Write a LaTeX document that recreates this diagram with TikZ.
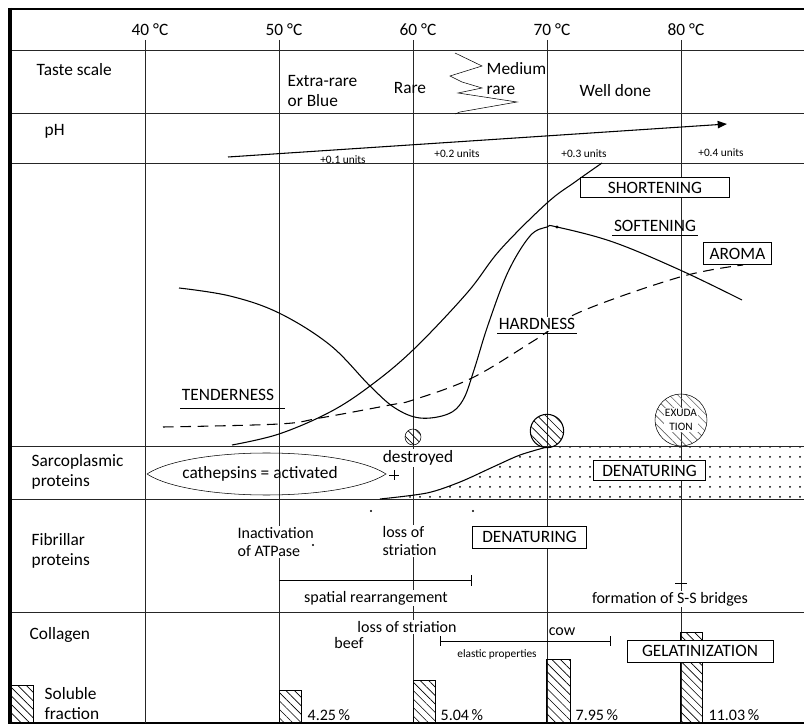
\documentclass[tikz,border=0pt]{standalone}
\usepackage{fontspec}
\setmainfont{Carlito}
\usetikzlibrary{arrows.meta,patterns.meta}

\begin{document}
\begin{tikzpicture}[x=0.75pt,y=-0.75pt,
    font=\fontsize{13}{15}\selectfont,
    medio/.style={font=\fontsize{12}{14}\selectfont},
    chico/.style={font=\fontsize{8.5}{9.5}\selectfont},
    caja/.style={draw,fill=white,inner sep=2pt,line width=0.7pt},
    blanco/.style={fill=white,inner sep=1pt},
    rayado/.style={pattern={Lines[angle=-45,distance=4.5pt,line width=0.5pt]}},
    rejilla/.style={line width=0.6pt,black!85},
    curva/.style={line width=0.8pt}]
    \useasboundingbox (0,0) rectangle (804,727);
    % Marco
    \foreach \y in {50,113,163,446,499,612}
        \draw[rejilla] (10,\y) -- (804,\y);
    \draw[line width=2pt] (10,9) -- (804,9);
    \draw[line width=1.5pt] (10,723) -- (804,723);
    \draw[line width=2.5pt] (10,8) -- (10,724);
    % Temperaturas
    \foreach \t/\x in {40/145,50/279,60/413,70/547,80/681}{
        \draw[rejilla] (\x,40) -- (\x,723);
        \node (t\t) at (\x+5,30) {\t\ °C};
    }
    % Escala de sabor
    \node[anchor=west] (taste) at (32,70) {Taste scale};
    \node[anchor=west,align=left] (xrare) at (283,91) {Extra-rare\\or Blue};
    \node (rare) at (410,88) {Rare};
    \draw (455,53) -- (482,66) -- (450,76) -- (462,82) -- (482,88) -- (458,93)
        -- (517,102) -- (460,112) -- (455,114);
    \node[anchor=west,align=left] (medium) at (482,79) {Medium\\rare};
    \node[anchor=west] (done) at (575,91) {Well done};
    % pH
    \node[anchor=west] (ph) at (40,131) {pH};
    \coordinate (ph0) at (228,157);
    \coordinate (ph1) at (727,124);
    \draw[line width=0.8pt,-{Triangle[length=7pt,width=5.5pt]}] (ph0) -- (ph1);
    \node[chico] (u1) at (343,160) {+0.1 units};
    \node[chico] (u2) at (457,154) {+0.2 units};
    \node[chico] (u3) at (584,154) {+0.3 units};
    \node[chico] (u4) at (721,153) {+0.4 units};
    % Zona punteada
    \fill[pattern={Dots[distance=7.5pt,radius=0.75pt]},pattern color=black]
        plot[smooth] coordinates {(393,499) (427,493) (460,482) (493,467) (520,455) (547,447)}
        -- (804,447) -- (804,499) -- cycle;
    \draw[curva] plot[smooth] coordinates {(380,499) (427,493) (460,482) (493,467) (520,455) (547,447)};
    % Curvas
    \draw[curva] plot[smooth,tension=0.6] coordinates {(179,288) (230,296) (279,313)
        (330,345) (370,386) (395,408) (420,418) (448,414) (463,400) (474,370) (488,325)
        (508,272) (530,236) (547,227) (557,227) (613,242) (680,270) (742,300)};
    \fill (557,227) circle (1.3pt);
    \draw[curva] plot[smooth,tension=0.6] coordinates {(232,445) (279,434) (330,412)
        (370,386) (413,350) (467,293) (500,250) (547,203) (575,182) (602,163)};
    \draw[curva,dash pattern=on 8pt off 5pt] plot[smooth,tension=0.6] coordinates {(163,427)
        (279,424) (320,418) (390,405) (413,400) (472,378) (535,340) (580,312) (680,277) (743,265)};
    % Etiquetas de curvas
    \node (tender) at (228,395) {TENDERNESS};
    \draw (180,408) -- (285,408);
    \node[blanco] (hard) at (537,324) {HARDNESS};
    \draw (497,333) -- (577,333);
    \node (soft) at (655,226) {SOFTENING};
    \draw (612,235) -- (698,235);
    \node[caja,minimum width=112pt,minimum height=15.5pt] (short) at (655,187.5) {SHORTENING};
    \node[caja,minimum width=51.5pt,minimum height=17pt] (aroma) at (737.5,253.5) {AROMA};
    % Circulos
    \node[circle,draw,rayado,minimum size=12pt,inner sep=0pt] (c60) at (413,437) {};
    \node[circle,draw,line width=0.8pt,rayado,minimum size=25pt,inner sep=0pt] (c70) at (547,431) {};
    \node[circle,draw,pattern={Lines[angle=-45,distance=4.5pt,line width=0.5pt]},
        pattern color=black!60,minimum size=39pt,inner sep=0pt] (c80) at (681,420) {};
    \node[chico,blanco,align=center] (exud) at (681,420) {EXUDA\\[1pt]TION};
    % Proteinas sarcoplasmicas
    \node[anchor=west,align=left] (sarco) at (27,472) {Sarcoplasmic\\proteins};
    \draw (147,474) .. controls (190,446) and (343,446) .. (386,474)
        .. controls (343,502) and (190,502) .. (147,474);
    \node (cath) at (260,474) {cathepsins = activated};
    \draw (389,475) -- (399,475) (394,470) -- (394,480);
    \node[blanco] (destr) at (418,458) {destroyed};
    \node[caja,minimum width=84.5pt,minimum height=15.5pt] (den1) at (649.5,470.5) {DENATURING};
    % Proteinas fibrilares
    \node[anchor=west,align=left] (fibr) at (27,551) {Fibrillar\\proteins};
    \node[medio,blanco,anchor=west,align=left] (atp) at (236,542) {Inactivation\\of ATPase};
    \node[medio,blanco,anchor=west,align=left] (stri1) at (381,541) {loss of\\striation};
    \foreach \p in {(313,545),(371,511),(473,511)}
        \fill \p circle (0.8pt);
    \node[caja,minimum width=86pt,minimum height=16.5pt] (den2) at (529.5,537) {DENATURING};
    \draw (279,580) -- (471,580) (471,575) -- (471,586);
    \node[medio,blanco] (spat) at (376,598) {spatial rearrangement};
    \draw (675,583) -- (687,583);
    \node[medio,blanco] (ss) at (670,599) {formation of S-S bridges};
    % Colageno
    \node[anchor=west] (coll) at (25,635) {Collagen};
    \node[medio,blanco] (stri2) at (407,627) {loss of striation};
    \node[medio] (beef) at (349,643) {beef};
    \node[medio] (cow) at (562,632) {cow};
    \draw (440,641) -- (610,641) (440,636) -- (440,646) (610,636) -- (610,646);
    \node[chico] (elast) at (497,654) {elastic properties};
    % Fraccion soluble
    \draw[rayado] (10,685) rectangle (33,723);
    \node[anchor=west,align=left] (sol) at (40,704) {Soluble\\fraction};
    \draw[rayado] (279,690) rectangle (301,723);
    \draw[rayado] (413,680) rectangle (435,723);
    \draw[rayado] (546,659) rectangle (570,723);
    \draw[rayado] (680,632) rectangle (702,723);
    \node[caja,minimum width=109.5pt,minimum height=16.5pt] (gel) at (700,651) {GELATINIZATION};
    \node[medio,anchor=west] (p50) at (303,715) {4.25\,\%};
    \node[medio,anchor=west] (p60) at (436,715) {5.04\,\%};
    \node[medio,anchor=west] (p70) at (571,715) {7.95\,\%};
    \node[medio,anchor=west] (p80) at (704,715) {11.03\,\%};
\end{tikzpicture}
\end{document}
